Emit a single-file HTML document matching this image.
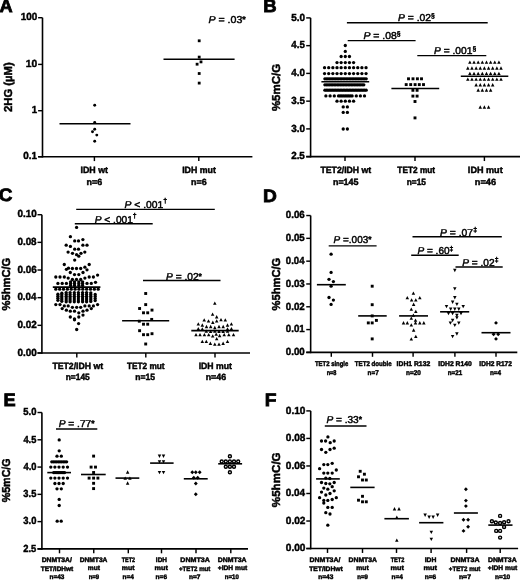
<!DOCTYPE html>
<html><head><meta charset="utf-8"><style>
html,body{margin:0;padding:0;background:#fff;}
svg{display:block;}
text{font-family:"Liberation Sans",sans-serif;fill:#000;text-rendering:geometricPrecision;stroke:#000;stroke-width:0.45px;}
</style></head><body>
<svg width="520" height="580" viewBox="0 0 520 580">
<defs><filter id="bl" x="0" y="0" width="1" height="1"><feGaussianBlur stdDeviation="0.35"/></filter></defs>
<rect width="520" height="580" fill="#fff"/>
<g filter="url(#bl)">
<text style="stroke-width:0.8px" transform="translate(-0.56,12.41) scale(1.0116,1)"><tspan font-weight="bold" font-style="normal" font-size="18">A</tspan></text>
<line x1="42.5" y1="17.7" x2="42.5" y2="157.5" stroke="#000" stroke-width="1.6"/>
<line x1="38.1" y1="156.7" x2="252.4" y2="156.7" stroke="#000" stroke-width="1.6"/>
<line x1="38.1" y1="17.7" x2="42.5" y2="17.7" stroke="#000" stroke-width="1.4400000000000002"/>
<line x1="38.1" y1="64.4" x2="42.5" y2="64.4" stroke="#000" stroke-width="1.4400000000000002"/>
<line x1="38.1" y1="110.7" x2="42.5" y2="110.7" stroke="#000" stroke-width="1.4400000000000002"/>
<line x1="38.1" y1="156.7" x2="42.5" y2="156.7" stroke="#000" stroke-width="1.4400000000000002"/>
<line x1="94.4" y1="156.7" x2="94.4" y2="161.1" stroke="#000" stroke-width="1.4400000000000002"/>
<line x1="198.8" y1="156.7" x2="198.8" y2="161.1" stroke="#000" stroke-width="1.4400000000000002"/>
<text transform="translate(20.65,20.45) scale(0.9647,1)"><tspan font-weight="bold" font-style="normal" font-size="10.3">100</tspan></text>
<text transform="translate(25.83,67.15) scale(0.9950,1)"><tspan font-weight="bold" font-style="normal" font-size="10.3">10</tspan></text>
<text transform="translate(31.67,113.45) scale(0.9396,1)"><tspan font-weight="bold" font-style="normal" font-size="10.3">1</tspan></text>
<text transform="translate(23.3,159.45) scale(0.9599,1)"><tspan font-weight="bold" font-style="normal" font-size="10.3">0.1</tspan></text>
<text transform="translate(12.36,111.99) rotate(-90) scale(0.9812,1)"><tspan font-weight="bold" font-style="normal" font-size="11.5">2HG (µM)</tspan></text>
<text transform="translate(80.53,172.86) scale(0.9811,1)"><tspan font-weight="bold" font-style="normal" font-size="9">IDH wt</tspan></text>
<text transform="translate(86.52,185.16) scale(0.9899,1)"><tspan font-weight="bold" font-style="normal" font-size="9">n=6</tspan></text>
<text transform="translate(182.13,172.86) scale(0.9765,1)"><tspan font-weight="bold" font-style="normal" font-size="9">IDH mut</tspan></text>
<text transform="translate(191.07,185.16) scale(0.9899,1)"><tspan font-weight="bold" font-style="normal" font-size="9">n=6</tspan></text>
<text transform="translate(208.38,22.9) scale(1.0603,1)"><tspan font-weight="normal" font-style="italic" font-size="10">P</tspan><tspan font-weight="normal" font-style="normal" font-size="10"> = .03</tspan><tspan font-weight="bold" font-style="normal" font-size="8.2" dy="-1">*</tspan></text>
<line x1="59.5" y1="123.8" x2="130.5" y2="123.8" stroke="#000" stroke-width="1.6"/>
<line x1="163.5" y1="59.2" x2="234.6" y2="59.2" stroke="#000" stroke-width="1.6"/>
<circle cx="94.7" cy="105.3" r="1.45"/>
<circle cx="94.7" cy="122.4" r="1.45"/>
<circle cx="94.7" cy="129.3" r="1.45"/>
<circle cx="92.5" cy="131.8" r="1.45"/>
<circle cx="96.8" cy="135.1" r="1.45"/>
<circle cx="94.7" cy="141.2" r="1.45"/>
<rect x="197.8" y="39.4" width="2.8" height="2.8"/>
<rect x="197.8" y="55.7" width="2.8" height="2.8"/>
<rect x="199.6" y="60.5" width="2.8" height="2.8"/>
<rect x="195.7" y="62.8" width="2.8" height="2.8"/>
<rect x="197.8" y="72.1" width="2.8" height="2.8"/>
<rect x="197.8" y="81.7" width="2.8" height="2.8"/>
<text style="stroke-width:0.8px" transform="translate(263.3,12.41) scale(1.0291,1)"><tspan font-weight="bold" font-style="normal" font-size="18">B</tspan></text>
<line x1="310.6" y1="17.9" x2="310.6" y2="157.45" stroke="#000" stroke-width="1.6"/>
<line x1="306.2" y1="156.65" x2="520" y2="156.65" stroke="#000" stroke-width="1.6"/>
<line x1="306.2" y1="17.9" x2="310.6" y2="17.9" stroke="#000" stroke-width="1.4400000000000002"/>
<line x1="306.2" y1="45.65" x2="310.6" y2="45.65" stroke="#000" stroke-width="1.4400000000000002"/>
<line x1="306.2" y1="73.4" x2="310.6" y2="73.4" stroke="#000" stroke-width="1.4400000000000002"/>
<line x1="306.2" y1="101.15" x2="310.6" y2="101.15" stroke="#000" stroke-width="1.4400000000000002"/>
<line x1="306.2" y1="128.9" x2="310.6" y2="128.9" stroke="#000" stroke-width="1.4400000000000002"/>
<line x1="306.2" y1="156.65" x2="310.6" y2="156.65" stroke="#000" stroke-width="1.4400000000000002"/>
<line x1="345" y1="156.65" x2="345" y2="161.05" stroke="#000" stroke-width="1.4400000000000002"/>
<line x1="415" y1="156.65" x2="415" y2="161.05" stroke="#000" stroke-width="1.4400000000000002"/>
<line x1="484.4" y1="156.65" x2="484.4" y2="161.05" stroke="#000" stroke-width="1.4400000000000002"/>
<text transform="translate(291.2,20.65) scale(0.9635,1)"><tspan font-weight="bold" font-style="normal" font-size="10.3">5.0</tspan></text>
<text transform="translate(291.35,48.35) scale(0.9421,1)"><tspan font-weight="bold" font-style="normal" font-size="10.3">4.5</tspan></text>
<text transform="translate(291.35,76.15) scale(0.9527,1)"><tspan font-weight="bold" font-style="normal" font-size="10.3">4.0</tspan></text>
<text transform="translate(291.26,103.9) scale(0.9491,1)"><tspan font-weight="bold" font-style="normal" font-size="10.3">3.5</tspan></text>
<text transform="translate(291.25,131.65) scale(0.9599,1)"><tspan font-weight="bold" font-style="normal" font-size="10.3">3.0</tspan></text>
<text transform="translate(291.16,159.4) scale(0.9563,1)"><tspan font-weight="bold" font-style="normal" font-size="10.3">2.5</tspan></text>
<text transform="translate(279.8,111.09) rotate(-90) scale(0.9981,1)"><tspan font-weight="bold" font-style="normal" font-size="11.5">%5mC/G</tspan></text>
<text transform="translate(320.46,173.27) scale(0.9658,1)"><tspan font-weight="bold" font-style="normal" font-size="9">TET2/IDH wt</tspan></text>
<text transform="translate(332.92,184.71) scale(0.9948,1)"><tspan font-weight="bold" font-style="normal" font-size="9">n=145</tspan></text>
<text transform="translate(397.32,173.21) scale(0.9212,1)"><tspan font-weight="bold" font-style="normal" font-size="9">TET2 mut</tspan></text>
<text transform="translate(406.71,184.71) scale(0.9280,1)"><tspan font-weight="bold" font-style="normal" font-size="9">n=15</tspan></text>
<text transform="translate(467.86,173.16) scale(1.0090,1)"><tspan font-weight="bold" font-style="normal" font-size="9">IDH mut</tspan></text>
<text transform="translate(474.85,184.75) scale(1.0229,1)"><tspan font-weight="bold" font-style="normal" font-size="9">n=46</tspan></text>
<line x1="346.9" y1="22.8" x2="487.7" y2="22.8" stroke="#000" stroke-width="1.4"/>
<line x1="347.7" y1="40.6" x2="415.6" y2="40.6" stroke="#000" stroke-width="1.4"/>
<line x1="417.3" y1="55.6" x2="486.3" y2="55.6" stroke="#000" stroke-width="1.4"/>
<text transform="translate(397.99,21.45) scale(1.0329,1)"><tspan font-weight="normal" font-style="italic" font-size="10">P</tspan><tspan font-weight="normal" font-style="normal" font-size="10"> = .02</tspan><tspan font-weight="normal" font-style="normal" font-size="6.6" dy="-3.4">§</tspan></text>
<text transform="translate(363.39,39) scale(1.0443,1)"><tspan font-weight="normal" font-style="italic" font-size="10">P</tspan><tspan font-weight="normal" font-style="normal" font-size="10"> = .08</tspan><tspan font-weight="normal" font-style="normal" font-size="6.6" dy="-3.4">§</tspan></text>
<text transform="translate(434.09,53.9) scale(1.0210,1)"><tspan font-weight="normal" font-style="italic" font-size="10">P</tspan><tspan font-weight="normal" font-style="normal" font-size="10"> = .001</tspan><tspan font-weight="normal" font-style="normal" font-size="6.6" dy="-3.4">§</tspan></text>
<circle cx="345.3" cy="45.5" r="1.65"/>
<circle cx="345.3" cy="51.4" r="1.65"/>
<circle cx="341.15" cy="56.5" r="1.65"/>
<circle cx="345.3" cy="56.5" r="1.65"/>
<circle cx="349.45" cy="56.5" r="1.65"/>
<circle cx="337" cy="62.6" r="1.65"/>
<circle cx="341.15" cy="62.6" r="1.65"/>
<circle cx="345.3" cy="62.6" r="1.65"/>
<circle cx="349.45" cy="62.6" r="1.65"/>
<circle cx="353.6" cy="62.6" r="1.65"/>
<circle cx="324.55" cy="67.7" r="1.65"/>
<circle cx="328.7" cy="67.7" r="1.65"/>
<circle cx="332.85" cy="67.7" r="1.65"/>
<circle cx="337" cy="67.7" r="1.65"/>
<circle cx="341.15" cy="67.7" r="1.65"/>
<circle cx="345.3" cy="67.7" r="1.65"/>
<circle cx="349.45" cy="67.7" r="1.65"/>
<circle cx="353.6" cy="67.7" r="1.65"/>
<circle cx="357.75" cy="67.7" r="1.65"/>
<circle cx="361.9" cy="67.7" r="1.65"/>
<circle cx="366.05" cy="67.7" r="1.65"/>
<circle cx="324.55" cy="73.6" r="1.65"/>
<circle cx="328.7" cy="73.6" r="1.65"/>
<circle cx="332.85" cy="73.6" r="1.65"/>
<circle cx="337" cy="73.6" r="1.65"/>
<circle cx="341.15" cy="73.6" r="1.65"/>
<circle cx="345.3" cy="73.6" r="1.65"/>
<circle cx="349.45" cy="73.6" r="1.65"/>
<circle cx="353.6" cy="73.6" r="1.65"/>
<circle cx="357.75" cy="73.6" r="1.65"/>
<circle cx="361.9" cy="73.6" r="1.65"/>
<circle cx="366.05" cy="73.6" r="1.65"/>
<circle cx="324.9" cy="78.8" r="1.65"/>
<circle cx="326.43" cy="78.8" r="1.65"/>
<circle cx="327.96" cy="78.8" r="1.65"/>
<circle cx="329.49" cy="78.8" r="1.65"/>
<circle cx="331.02" cy="78.8" r="1.65"/>
<circle cx="332.55" cy="78.8" r="1.65"/>
<circle cx="334.08" cy="78.8" r="1.65"/>
<circle cx="335.61" cy="78.8" r="1.65"/>
<circle cx="337.14" cy="78.8" r="1.65"/>
<circle cx="338.67" cy="78.8" r="1.65"/>
<circle cx="340.2" cy="78.8" r="1.65"/>
<circle cx="341.73" cy="78.8" r="1.65"/>
<circle cx="343.26" cy="78.8" r="1.65"/>
<circle cx="344.79" cy="78.8" r="1.65"/>
<circle cx="346.31" cy="78.8" r="1.65"/>
<circle cx="347.84" cy="78.8" r="1.65"/>
<circle cx="349.37" cy="78.8" r="1.65"/>
<circle cx="350.9" cy="78.8" r="1.65"/>
<circle cx="352.43" cy="78.8" r="1.65"/>
<circle cx="353.96" cy="78.8" r="1.65"/>
<circle cx="355.49" cy="78.8" r="1.65"/>
<circle cx="357.02" cy="78.8" r="1.65"/>
<circle cx="358.55" cy="78.8" r="1.65"/>
<circle cx="360.08" cy="78.8" r="1.65"/>
<circle cx="361.61" cy="78.8" r="1.65"/>
<circle cx="363.14" cy="78.8" r="1.65"/>
<circle cx="364.67" cy="78.8" r="1.65"/>
<circle cx="366.2" cy="78.8" r="1.65"/>
<circle cx="324.9" cy="84.8" r="1.65"/>
<circle cx="326.46" cy="84.8" r="1.65"/>
<circle cx="328.01" cy="84.8" r="1.65"/>
<circle cx="329.57" cy="84.8" r="1.65"/>
<circle cx="331.12" cy="84.8" r="1.65"/>
<circle cx="332.68" cy="84.8" r="1.65"/>
<circle cx="334.24" cy="84.8" r="1.65"/>
<circle cx="335.79" cy="84.8" r="1.65"/>
<circle cx="337.35" cy="84.8" r="1.65"/>
<circle cx="338.9" cy="84.8" r="1.65"/>
<circle cx="340.46" cy="84.8" r="1.65"/>
<circle cx="342.02" cy="84.8" r="1.65"/>
<circle cx="343.57" cy="84.8" r="1.65"/>
<circle cx="345.13" cy="84.8" r="1.65"/>
<circle cx="346.68" cy="84.8" r="1.65"/>
<circle cx="348.24" cy="84.8" r="1.65"/>
<circle cx="349.8" cy="84.8" r="1.65"/>
<circle cx="351.35" cy="84.8" r="1.65"/>
<circle cx="352.91" cy="84.8" r="1.65"/>
<circle cx="354.46" cy="84.8" r="1.65"/>
<circle cx="356.02" cy="84.8" r="1.65"/>
<circle cx="357.58" cy="84.8" r="1.65"/>
<circle cx="359.13" cy="84.8" r="1.65"/>
<circle cx="360.69" cy="84.8" r="1.65"/>
<circle cx="362.24" cy="84.8" r="1.65"/>
<circle cx="363.8" cy="84.8" r="1.65"/>
<circle cx="324.9" cy="90.2" r="1.65"/>
<circle cx="326.43" cy="90.2" r="1.65"/>
<circle cx="327.96" cy="90.2" r="1.65"/>
<circle cx="329.49" cy="90.2" r="1.65"/>
<circle cx="331.02" cy="90.2" r="1.65"/>
<circle cx="332.55" cy="90.2" r="1.65"/>
<circle cx="334.08" cy="90.2" r="1.65"/>
<circle cx="335.61" cy="90.2" r="1.65"/>
<circle cx="337.14" cy="90.2" r="1.65"/>
<circle cx="338.67" cy="90.2" r="1.65"/>
<circle cx="340.2" cy="90.2" r="1.65"/>
<circle cx="341.73" cy="90.2" r="1.65"/>
<circle cx="343.26" cy="90.2" r="1.65"/>
<circle cx="344.79" cy="90.2" r="1.65"/>
<circle cx="346.31" cy="90.2" r="1.65"/>
<circle cx="347.84" cy="90.2" r="1.65"/>
<circle cx="349.37" cy="90.2" r="1.65"/>
<circle cx="350.9" cy="90.2" r="1.65"/>
<circle cx="352.43" cy="90.2" r="1.65"/>
<circle cx="353.96" cy="90.2" r="1.65"/>
<circle cx="355.49" cy="90.2" r="1.65"/>
<circle cx="357.02" cy="90.2" r="1.65"/>
<circle cx="358.55" cy="90.2" r="1.65"/>
<circle cx="360.08" cy="90.2" r="1.65"/>
<circle cx="361.61" cy="90.2" r="1.65"/>
<circle cx="363.14" cy="90.2" r="1.65"/>
<circle cx="364.67" cy="90.2" r="1.65"/>
<circle cx="366.2" cy="90.2" r="1.65"/>
<circle cx="337" cy="101.2" r="1.65"/>
<circle cx="341.15" cy="101.2" r="1.65"/>
<circle cx="345.3" cy="101.2" r="1.65"/>
<circle cx="349.45" cy="101.2" r="1.65"/>
<circle cx="353.6" cy="101.2" r="1.65"/>
<circle cx="343.23" cy="106.9" r="1.65"/>
<circle cx="347.38" cy="106.9" r="1.65"/>
<circle cx="343.23" cy="112.4" r="1.65"/>
<circle cx="347.38" cy="112.4" r="1.65"/>
<circle cx="343.23" cy="129" r="1.65"/>
<circle cx="347.38" cy="129" r="1.65"/>
<circle cx="325.9" cy="95.9" r="1.65"/>
<circle cx="330.1" cy="95.9" r="1.65"/>
<circle cx="334.3" cy="95.9" r="1.65"/>
<circle cx="356.3" cy="95.9" r="1.65"/>
<circle cx="360.4" cy="95.9" r="1.65"/>
<circle cx="364.5" cy="95.9" r="1.65"/>
<circle cx="338.5" cy="95.9" r="1.65"/>
<circle cx="340.2" cy="95.9" r="1.65"/>
<circle cx="341.9" cy="95.9" r="1.65"/>
<circle cx="343.6" cy="95.9" r="1.65"/>
<circle cx="345.3" cy="95.9" r="1.65"/>
<circle cx="347" cy="95.9" r="1.65"/>
<circle cx="348.7" cy="95.9" r="1.65"/>
<circle cx="350.4" cy="95.9" r="1.65"/>
<circle cx="352.1" cy="95.9" r="1.65"/>
<line x1="321.4" y1="81.7" x2="369.2" y2="81.7" stroke="#000" stroke-width="1.6"/>
<rect x="407.05" y="77.35" width="2.9" height="2.9"/>
<rect x="411.55" y="77.35" width="2.9" height="2.9"/>
<rect x="415.95" y="77.35" width="2.9" height="2.9"/>
<rect x="420.05" y="77.35" width="2.9" height="2.9"/>
<rect x="404.75" y="83.15" width="2.9" height="2.9"/>
<rect x="409.25" y="83.15" width="2.9" height="2.9"/>
<rect x="413.65" y="83.15" width="2.9" height="2.9"/>
<rect x="417.85" y="83.15" width="2.9" height="2.9"/>
<rect x="422.05" y="83.15" width="2.9" height="2.9"/>
<rect x="411.45" y="88.85" width="2.9" height="2.9"/>
<rect x="415.65" y="88.85" width="2.9" height="2.9"/>
<rect x="411.45" y="94.65" width="2.9" height="2.9"/>
<rect x="415.65" y="94.65" width="2.9" height="2.9"/>
<rect x="413.55" y="100.05" width="2.9" height="2.9"/>
<rect x="413.55" y="116.45" width="2.9" height="2.9"/>
<line x1="391.4" y1="88.5" x2="439.2" y2="88.5" stroke="#000" stroke-width="1.6"/>
<path d="M469.88 60.51L471.62 63.83L468.12 63.83Z"/>
<path d="M474.02 60.51L475.77 63.83L472.27 63.83Z"/>
<path d="M478.17 60.51L479.92 63.83L476.42 63.83Z"/>
<path d="M482.32 60.51L484.07 63.83L480.57 63.83Z"/>
<path d="M486.47 60.51L488.22 63.83L484.72 63.83Z"/>
<path d="M490.62 60.51L492.38 63.83L488.88 63.83Z"/>
<path d="M494.77 60.51L496.52 63.83L493.02 63.83Z"/>
<path d="M498.92 60.51L500.67 63.83L497.17 63.83Z"/>
<path d="M467.8 66.3L469.55 69.63L466.05 69.63Z"/>
<path d="M471.95 66.3L473.7 69.63L470.2 69.63Z"/>
<path d="M476.1 66.3L477.85 69.63L474.35 69.63Z"/>
<path d="M480.25 66.3L482 69.63L478.5 69.63Z"/>
<path d="M484.4 66.3L486.15 69.63L482.65 69.63Z"/>
<path d="M488.55 66.3L490.3 69.63L486.8 69.63Z"/>
<path d="M492.7 66.3L494.45 69.63L490.95 69.63Z"/>
<path d="M496.85 66.3L498.6 69.63L495.1 69.63Z"/>
<path d="M501 66.3L502.75 69.63L499.25 69.63Z"/>
<path d="M469.88 71.7L471.62 75.03L468.12 75.03Z"/>
<path d="M474.02 71.7L475.77 75.03L472.27 75.03Z"/>
<path d="M478.17 71.7L479.92 75.03L476.42 75.03Z"/>
<path d="M482.32 71.7L484.07 75.03L480.57 75.03Z"/>
<path d="M486.47 71.7L488.22 75.03L484.72 75.03Z"/>
<path d="M490.62 71.7L492.38 75.03L488.88 75.03Z"/>
<path d="M494.77 71.7L496.52 75.03L493.02 75.03Z"/>
<path d="M498.92 71.7L500.67 75.03L497.17 75.03Z"/>
<path d="M467.8 77.41L469.55 80.73L466.05 80.73Z"/>
<path d="M471.95 77.41L473.7 80.73L470.2 80.73Z"/>
<path d="M476.1 77.41L477.85 80.73L474.35 80.73Z"/>
<path d="M480.25 77.41L482 80.73L478.5 80.73Z"/>
<path d="M484.4 77.41L486.15 80.73L482.65 80.73Z"/>
<path d="M488.55 77.41L490.3 80.73L486.8 80.73Z"/>
<path d="M492.7 77.41L494.45 80.73L490.95 80.73Z"/>
<path d="M496.85 77.41L498.6 80.73L495.1 80.73Z"/>
<path d="M501 77.41L502.75 80.73L499.25 80.73Z"/>
<path d="M476.1 83.1L477.85 86.43L474.35 86.43Z"/>
<path d="M480.25 83.1L482 86.43L478.5 86.43Z"/>
<path d="M484.4 83.1L486.15 86.43L482.65 86.43Z"/>
<path d="M488.55 83.1L490.3 86.43L486.8 86.43Z"/>
<path d="M492.7 83.1L494.45 86.43L490.95 86.43Z"/>
<path d="M478.17 88.3L479.92 91.63L476.42 91.63Z"/>
<path d="M482.32 88.3L484.07 91.63L480.57 91.63Z"/>
<path d="M486.47 88.3L488.22 91.63L484.72 91.63Z"/>
<path d="M490.62 88.3L492.38 91.63L488.88 91.63Z"/>
<path d="M480.25 105.3L482 108.63L478.5 108.63Z"/>
<path d="M484.4 105.3L486.15 108.63L482.65 108.63Z"/>
<path d="M488.55 105.3L490.3 108.63L486.8 108.63Z"/>
<line x1="460.8" y1="76.3" x2="508.3" y2="76.3" stroke="#000" stroke-width="1.6"/>
<text style="stroke-width:0.8px" transform="translate(-1.16,201.36) scale(1.0517,1)"><tspan font-weight="bold" font-style="normal" font-size="18">C</tspan></text>
<line x1="41.9" y1="214.7" x2="41.9" y2="353.8" stroke="#000" stroke-width="1.6"/>
<line x1="37.5" y1="353" x2="250" y2="353" stroke="#000" stroke-width="1.6"/>
<line x1="37.5" y1="214.7" x2="41.9" y2="214.7" stroke="#000" stroke-width="1.4400000000000002"/>
<line x1="37.5" y1="242.36" x2="41.9" y2="242.36" stroke="#000" stroke-width="1.4400000000000002"/>
<line x1="37.5" y1="270.02" x2="41.9" y2="270.02" stroke="#000" stroke-width="1.4400000000000002"/>
<line x1="37.5" y1="297.68" x2="41.9" y2="297.68" stroke="#000" stroke-width="1.4400000000000002"/>
<line x1="37.5" y1="325.34" x2="41.9" y2="325.34" stroke="#000" stroke-width="1.4400000000000002"/>
<line x1="37.5" y1="353" x2="41.9" y2="353" stroke="#000" stroke-width="1.4400000000000002"/>
<line x1="76.8" y1="353" x2="76.8" y2="357.4" stroke="#000" stroke-width="1.4400000000000002"/>
<line x1="145.8" y1="353" x2="145.8" y2="357.4" stroke="#000" stroke-width="1.4400000000000002"/>
<line x1="215" y1="353" x2="215" y2="357.4" stroke="#000" stroke-width="1.4400000000000002"/>
<text transform="translate(17.4,217.45) scale(0.9631,1)"><tspan font-weight="bold" font-style="normal" font-size="10.3">0.10</tspan></text>
<text transform="translate(17.41,245.11) scale(0.9579,1)"><tspan font-weight="bold" font-style="normal" font-size="10.3">0.08</tspan></text>
<text transform="translate(17.4,272.77) scale(0.9605,1)"><tspan font-weight="bold" font-style="normal" font-size="10.3">0.06</tspan></text>
<text transform="translate(17.41,300.43) scale(0.9453,1)"><tspan font-weight="bold" font-style="normal" font-size="10.3">0.04</tspan></text>
<text transform="translate(17.4,328.09) scale(0.9631,1)"><tspan font-weight="bold" font-style="normal" font-size="10.3">0.02</tspan></text>
<text transform="translate(17.4,355.75) scale(0.9631,1)"><tspan font-weight="bold" font-style="normal" font-size="10.3">0.00</tspan></text>
<text transform="translate(10.45,310.48) rotate(-90) scale(0.9718,1)"><tspan font-weight="bold" font-style="normal" font-size="11.5">%5hmC/G</tspan></text>
<text transform="translate(52.41,368.82) scale(0.9658,1)"><tspan font-weight="bold" font-style="normal" font-size="9">TET2/IDH wt</tspan></text>
<text transform="translate(65.7,380.21) scale(0.9346,1)"><tspan font-weight="bold" font-style="normal" font-size="9">n=145</tspan></text>
<text transform="translate(126.92,368.75) scale(0.9188,1)"><tspan font-weight="bold" font-style="normal" font-size="9">TET2 mut</tspan></text>
<text transform="translate(135.24,380.21) scale(0.9531,1)"><tspan font-weight="bold" font-style="normal" font-size="9">n=15</tspan></text>
<text transform="translate(198.64,368.71) scale(0.9646,1)"><tspan font-weight="bold" font-style="normal" font-size="9">IDH mut</tspan></text>
<text transform="translate(205.68,380.25) scale(0.9826,1)"><tspan font-weight="bold" font-style="normal" font-size="9">n=46</tspan></text>
<line x1="76.2" y1="209.4" x2="214.8" y2="209.4" stroke="#000" stroke-width="1.4"/>
<line x1="74.8" y1="223.8" x2="152.7" y2="223.8" stroke="#000" stroke-width="1.4"/>
<line x1="143" y1="280.5" x2="220.5" y2="280.5" stroke="#000" stroke-width="1.4"/>
<text transform="translate(124.49,207.7) scale(1.0320,1)"><tspan font-weight="normal" font-style="italic" font-size="10">P</tspan><tspan font-weight="normal" font-style="normal" font-size="10"> &lt; .001</tspan><tspan font-weight="normal" font-style="normal" font-size="6.8" dy="-4.4">†</tspan></text>
<text transform="translate(94.69,222.5) scale(1.0172,1)"><tspan font-weight="normal" font-style="italic" font-size="10">P</tspan><tspan font-weight="normal" font-style="normal" font-size="10"> &lt; .001</tspan><tspan font-weight="normal" font-style="normal" font-size="6.8" dy="-4.4">†</tspan></text>
<text transform="translate(165.99,279.5) scale(1.0201,1)"><tspan font-weight="normal" font-style="italic" font-size="10">P</tspan><tspan font-weight="normal" font-style="normal" font-size="10"> = .02</tspan><tspan font-weight="bold" font-style="normal" font-size="8.2" dy="-1">*</tspan></text>
<circle cx="76.6" cy="227.4" r="1.65"/>
<circle cx="70.4" cy="236.7" r="1.65"/>
<circle cx="74.7" cy="240.9" r="1.65"/>
<circle cx="78.5" cy="240.9" r="1.65"/>
<circle cx="82.9" cy="239.6" r="1.65"/>
<circle cx="66.2" cy="245.2" r="1.65"/>
<circle cx="70.4" cy="246.4" r="1.65"/>
<circle cx="82.9" cy="245.2" r="1.65"/>
<circle cx="87" cy="245.2" r="1.65"/>
<circle cx="74.7" cy="249.2" r="1.65"/>
<circle cx="78.5" cy="249.2" r="1.65"/>
<circle cx="68.1" cy="252.1" r="1.65"/>
<circle cx="72.5" cy="253.3" r="1.65"/>
<circle cx="76.6" cy="254.7" r="1.65"/>
<circle cx="78.8" cy="256.2" r="1.65"/>
<circle cx="81" cy="253.3" r="1.65"/>
<circle cx="84.8" cy="252.1" r="1.65"/>
<circle cx="74.7" cy="260.1" r="1.65"/>
<circle cx="64.3" cy="264.5" r="1.65"/>
<circle cx="89.2" cy="264.5" r="1.65"/>
<circle cx="66.4" cy="269.3" r="1.65"/>
<circle cx="68.5" cy="268.2" r="1.65"/>
<circle cx="72.4" cy="268.5" r="1.65"/>
<circle cx="76.5" cy="268.5" r="1.65"/>
<circle cx="80.7" cy="268.5" r="1.65"/>
<circle cx="84.9" cy="267.2" r="1.65"/>
<circle cx="87" cy="269.8" r="1.65"/>
<circle cx="70.3" cy="272.5" r="1.65"/>
<circle cx="83" cy="272.5" r="1.65"/>
<circle cx="74.5" cy="274.6" r="1.65"/>
<circle cx="78.8" cy="274.6" r="1.65"/>
<circle cx="55.8" cy="277" r="1.65"/>
<circle cx="60" cy="277" r="1.65"/>
<circle cx="64.3" cy="277" r="1.65"/>
<circle cx="89.2" cy="277" r="1.65"/>
<circle cx="93.4" cy="277" r="1.65"/>
<circle cx="97.6" cy="275.1" r="1.65"/>
<circle cx="68.2" cy="278.1" r="1.65"/>
<circle cx="84.9" cy="278.1" r="1.65"/>
<circle cx="72.4" cy="279.5" r="1.65"/>
<circle cx="76.5" cy="279.5" r="1.65"/>
<circle cx="80.7" cy="279.5" r="1.65"/>
<circle cx="57.9" cy="283.4" r="1.65"/>
<circle cx="62.2" cy="283.4" r="1.65"/>
<circle cx="66.4" cy="283.4" r="1.65"/>
<circle cx="87" cy="283.4" r="1.65"/>
<circle cx="91.3" cy="283.4" r="1.65"/>
<circle cx="95.5" cy="282.3" r="1.65"/>
<circle cx="55.8" cy="304.6" r="1.65"/>
<circle cx="60" cy="304.6" r="1.65"/>
<circle cx="64.3" cy="305.9" r="1.65"/>
<circle cx="68.2" cy="305.9" r="1.65"/>
<circle cx="72.4" cy="307.3" r="1.65"/>
<circle cx="76.7" cy="307.3" r="1.65"/>
<circle cx="80.7" cy="307.3" r="1.65"/>
<circle cx="84.9" cy="305.9" r="1.65"/>
<circle cx="89.2" cy="305.9" r="1.65"/>
<circle cx="93.4" cy="305.9" r="1.65"/>
<circle cx="97.6" cy="304.6" r="1.65"/>
<circle cx="62.2" cy="308.6" r="1.65"/>
<circle cx="66.4" cy="310.2" r="1.65"/>
<circle cx="70.3" cy="311.2" r="1.65"/>
<circle cx="74.5" cy="311.2" r="1.65"/>
<circle cx="78.8" cy="312.8" r="1.65"/>
<circle cx="83" cy="311.2" r="1.65"/>
<circle cx="87" cy="310.2" r="1.65"/>
<circle cx="91.3" cy="308.6" r="1.65"/>
<circle cx="70.3" cy="317" r="1.65"/>
<circle cx="74.5" cy="318.8" r="1.65"/>
<circle cx="74.5" cy="319.8" r="1.65"/>
<circle cx="78.8" cy="317" r="1.65"/>
<circle cx="83" cy="315.1" r="1.65"/>
<circle cx="78.6" cy="323.6" r="1.65"/>
<circle cx="76.7" cy="329.5" r="1.65"/>
<circle cx="70.6" cy="281.8" r="1.65"/>
<circle cx="70.6" cy="283.6" r="1.65"/>
<circle cx="70.6" cy="285.4" r="1.65"/>
<circle cx="74.5" cy="281.8" r="1.65"/>
<circle cx="74.5" cy="283.6" r="1.65"/>
<circle cx="74.5" cy="285.4" r="1.65"/>
<circle cx="78.8" cy="281.8" r="1.65"/>
<circle cx="78.8" cy="283.6" r="1.65"/>
<circle cx="78.8" cy="285.4" r="1.65"/>
<circle cx="82.6" cy="281.8" r="1.65"/>
<circle cx="82.6" cy="283.6" r="1.65"/>
<circle cx="82.6" cy="285.4" r="1.65"/>
<circle cx="55.8" cy="289.2" r="1.65"/>
<circle cx="59.65" cy="289.2" r="1.65"/>
<circle cx="63.51" cy="289.2" r="1.65"/>
<circle cx="67.36" cy="289.2" r="1.65"/>
<circle cx="71.22" cy="289.2" r="1.65"/>
<circle cx="75.07" cy="289.2" r="1.65"/>
<circle cx="78.93" cy="289.2" r="1.65"/>
<circle cx="82.78" cy="289.2" r="1.65"/>
<circle cx="86.64" cy="289.2" r="1.65"/>
<circle cx="90.5" cy="289.2" r="1.65"/>
<circle cx="94.35" cy="289.2" r="1.65"/>
<circle cx="98.2" cy="289.2" r="1.65"/>
<circle cx="57.9" cy="294.2" r="1.65"/>
<circle cx="57.9" cy="296.23" r="1.65"/>
<circle cx="57.9" cy="298.27" r="1.65"/>
<circle cx="57.9" cy="300.3" r="1.65"/>
<circle cx="61.8" cy="293.2" r="1.65"/>
<circle cx="61.8" cy="294.82" r="1.65"/>
<circle cx="61.8" cy="296.44" r="1.65"/>
<circle cx="61.8" cy="298.06" r="1.65"/>
<circle cx="61.8" cy="299.68" r="1.65"/>
<circle cx="61.8" cy="301.3" r="1.65"/>
<circle cx="66.2" cy="292.6" r="1.65"/>
<circle cx="66.2" cy="294.44" r="1.65"/>
<circle cx="66.2" cy="296.28" r="1.65"/>
<circle cx="66.2" cy="298.12" r="1.65"/>
<circle cx="66.2" cy="299.96" r="1.65"/>
<circle cx="66.2" cy="301.8" r="1.65"/>
<circle cx="70.1" cy="292.6" r="1.65"/>
<circle cx="70.1" cy="294.44" r="1.65"/>
<circle cx="70.1" cy="296.28" r="1.65"/>
<circle cx="70.1" cy="298.12" r="1.65"/>
<circle cx="70.1" cy="299.96" r="1.65"/>
<circle cx="70.1" cy="301.8" r="1.65"/>
<circle cx="74.3" cy="292.6" r="1.65"/>
<circle cx="74.3" cy="294.44" r="1.65"/>
<circle cx="74.3" cy="296.28" r="1.65"/>
<circle cx="74.3" cy="298.12" r="1.65"/>
<circle cx="74.3" cy="299.96" r="1.65"/>
<circle cx="74.3" cy="301.8" r="1.65"/>
<circle cx="78.4" cy="292.6" r="1.65"/>
<circle cx="78.4" cy="294.44" r="1.65"/>
<circle cx="78.4" cy="296.28" r="1.65"/>
<circle cx="78.4" cy="298.12" r="1.65"/>
<circle cx="78.4" cy="299.96" r="1.65"/>
<circle cx="78.4" cy="301.8" r="1.65"/>
<circle cx="82.6" cy="292.6" r="1.65"/>
<circle cx="82.6" cy="294.44" r="1.65"/>
<circle cx="82.6" cy="296.28" r="1.65"/>
<circle cx="82.6" cy="298.12" r="1.65"/>
<circle cx="82.6" cy="299.96" r="1.65"/>
<circle cx="82.6" cy="301.8" r="1.65"/>
<circle cx="86.6" cy="292.6" r="1.65"/>
<circle cx="86.6" cy="294.44" r="1.65"/>
<circle cx="86.6" cy="296.28" r="1.65"/>
<circle cx="86.6" cy="298.12" r="1.65"/>
<circle cx="86.6" cy="299.96" r="1.65"/>
<circle cx="86.6" cy="301.8" r="1.65"/>
<circle cx="90.8" cy="292.8" r="1.65"/>
<circle cx="90.8" cy="294.52" r="1.65"/>
<circle cx="90.8" cy="296.24" r="1.65"/>
<circle cx="90.8" cy="297.96" r="1.65"/>
<circle cx="90.8" cy="299.68" r="1.65"/>
<circle cx="90.8" cy="301.4" r="1.65"/>
<circle cx="95.2" cy="294.4" r="1.65"/>
<circle cx="95.2" cy="296.47" r="1.65"/>
<circle cx="95.2" cy="298.53" r="1.65"/>
<circle cx="95.2" cy="300.6" r="1.65"/>
<line x1="52.8" y1="287.1" x2="100.4" y2="287.1" stroke="#000" stroke-width="1.6"/>
<rect x="144.25" y="292.05" width="2.9" height="2.9"/>
<rect x="144.25" y="303.15" width="2.9" height="2.9"/>
<rect x="138.15" y="307.05" width="2.9" height="2.9"/>
<rect x="150.55" y="308.65" width="2.9" height="2.9"/>
<rect x="142.05" y="311.35" width="2.9" height="2.9"/>
<rect x="146.25" y="311.35" width="2.9" height="2.9"/>
<rect x="137.85" y="319.75" width="2.9" height="2.9"/>
<rect x="150.25" y="317.95" width="2.9" height="2.9"/>
<rect x="142.05" y="322.75" width="2.9" height="2.9"/>
<rect x="146.25" y="322.75" width="2.9" height="2.9"/>
<rect x="138.15" y="329.25" width="2.9" height="2.9"/>
<rect x="142.05" y="333.25" width="2.9" height="2.9"/>
<rect x="146.25" y="333.25" width="2.9" height="2.9"/>
<rect x="150.55" y="332.25" width="2.9" height="2.9"/>
<rect x="144.25" y="342.55" width="2.9" height="2.9"/>
<line x1="122.1" y1="320.8" x2="169.2" y2="320.8" stroke="#000" stroke-width="1.6"/>
<path d="M214.8 301.4L216.55 304.73L213.05 304.73Z"/>
<path d="M212.6 312.4L214.35 315.73L210.85 315.73Z"/>
<path d="M216.7 315.11L218.45 318.43L214.95 318.43Z"/>
<path d="M204.2 318.2L205.95 321.53L202.45 321.53Z"/>
<path d="M208.5 319.2L210.25 322.53L206.75 322.53Z"/>
<path d="M212.8 320.61L214.55 323.93L211.05 323.93Z"/>
<path d="M216.7 319.2L218.45 322.53L214.95 322.53Z"/>
<path d="M221 318L222.75 321.33L219.25 321.33Z"/>
<path d="M225.3 318.2L227.05 321.53L223.55 321.53Z"/>
<path d="M198.3 322.2L200.05 325.53L196.55 325.53Z"/>
<path d="M202.3 323.31L204.05 326.63L200.55 326.63Z"/>
<path d="M206.5 324.81L208.25 328.13L204.75 328.13Z"/>
<path d="M210.7 324.81L212.45 328.13L208.95 328.13Z"/>
<path d="M214.8 325.81L216.55 329.13L213.05 329.13Z"/>
<path d="M219 324.81L220.75 328.13L217.25 328.13Z"/>
<path d="M223.2 324.81L224.95 328.13L221.45 328.13Z"/>
<path d="M227.5 323.31L229.25 326.63L225.75 326.63Z"/>
<path d="M231.4 322.2L233.15 325.53L229.65 325.53Z"/>
<path d="M198.3 327L200.05 330.33L196.55 330.33Z"/>
<path d="M202.3 327.2L204.05 330.53L200.55 330.53Z"/>
<path d="M227.5 327.2L229.25 330.53L225.75 330.53Z"/>
<path d="M231.4 327L233.15 330.33L229.65 330.33Z"/>
<path d="M206.3 329.5L208.05 332.83L204.55 332.83Z"/>
<path d="M210.6 329.7L212.35 333.03L208.85 333.03Z"/>
<path d="M214.8 329.5L216.55 332.83L213.05 332.83Z"/>
<path d="M219 329.7L220.75 333.03L217.25 333.03Z"/>
<path d="M223.1 329.7L224.85 333.03L221.35 333.03Z"/>
<path d="M227.5 329.5L229.25 332.83L225.75 332.83Z"/>
<path d="M196 333L197.75 336.33L194.25 336.33Z"/>
<path d="M200 333L201.75 336.33L198.25 336.33Z"/>
<path d="M204.4 333L206.15 336.33L202.65 336.33Z"/>
<path d="M208.7 333L210.45 336.33L206.95 336.33Z"/>
<path d="M212.7 334.2L214.45 337.53L210.95 337.53Z"/>
<path d="M216.2 332.4L217.95 335.73L214.45 335.73Z"/>
<path d="M219.6 333.81L221.35 337.13L217.85 337.13Z"/>
<path d="M224.2 333L225.95 336.33L222.45 336.33Z"/>
<path d="M228.8 333L230.55 336.33L227.05 336.33Z"/>
<path d="M233.5 333L235.25 336.33L231.75 336.33Z"/>
<path d="M216.7 337L218.45 340.33L214.95 340.33Z"/>
<path d="M202.3 339.7L204.05 343.03L200.55 343.03Z"/>
<path d="M206.3 339.7L208.05 343.03L204.55 343.03Z"/>
<path d="M210.4 341.61L212.15 344.93L208.65 344.93Z"/>
<path d="M214.8 342.4L216.55 345.73L213.05 345.73Z"/>
<path d="M219 342.4L220.75 345.73L217.25 345.73Z"/>
<path d="M223.1 341.61L224.85 344.93L221.35 344.93Z"/>
<path d="M227.5 339.7L229.25 343.03L225.75 343.03Z"/>
<line x1="191.3" y1="330.6" x2="238.7" y2="330.6" stroke="#000" stroke-width="1.6"/>
<text style="stroke-width:0.8px" transform="translate(263.05,201.66) scale(1.0659,1)"><tspan font-weight="bold" font-style="normal" font-size="18">D</tspan></text>
<line x1="310.65" y1="215.54" x2="310.65" y2="353.2" stroke="#000" stroke-width="1.6"/>
<line x1="306.25" y1="352.4" x2="517.3" y2="352.4" stroke="#000" stroke-width="1.6"/>
<line x1="306.25" y1="352.4" x2="310.65" y2="352.4" stroke="#000" stroke-width="1.4400000000000002"/>
<line x1="306.25" y1="329.59" x2="310.65" y2="329.59" stroke="#000" stroke-width="1.4400000000000002"/>
<line x1="306.25" y1="306.78" x2="310.65" y2="306.78" stroke="#000" stroke-width="1.4400000000000002"/>
<line x1="306.25" y1="283.97" x2="310.65" y2="283.97" stroke="#000" stroke-width="1.4400000000000002"/>
<line x1="306.25" y1="261.16" x2="310.65" y2="261.16" stroke="#000" stroke-width="1.4400000000000002"/>
<line x1="306.25" y1="238.35" x2="310.65" y2="238.35" stroke="#000" stroke-width="1.4400000000000002"/>
<line x1="306.25" y1="215.54" x2="310.65" y2="215.54" stroke="#000" stroke-width="1.4400000000000002"/>
<line x1="331.3" y1="352.4" x2="331.3" y2="356.8" stroke="#000" stroke-width="1.4400000000000002"/>
<line x1="372.5" y1="352.4" x2="372.5" y2="356.8" stroke="#000" stroke-width="1.4400000000000002"/>
<line x1="413.1" y1="352.4" x2="413.1" y2="356.8" stroke="#000" stroke-width="1.4400000000000002"/>
<line x1="454.9" y1="352.4" x2="454.9" y2="356.8" stroke="#000" stroke-width="1.4400000000000002"/>
<line x1="496" y1="352.4" x2="496" y2="356.8" stroke="#000" stroke-width="1.4400000000000002"/>
<text transform="translate(285.81,355.15) scale(0.9474,1)"><tspan font-weight="bold" font-style="normal" font-size="10.3">0.00</tspan></text>
<text transform="translate(285.81,332.34) scale(0.9399,1)"><tspan font-weight="bold" font-style="normal" font-size="10.3">0.01</tspan></text>
<text transform="translate(285.81,309.53) scale(0.9474,1)"><tspan font-weight="bold" font-style="normal" font-size="10.3">0.02</tspan></text>
<text transform="translate(285.81,286.72) scale(0.9449,1)"><tspan font-weight="bold" font-style="normal" font-size="10.3">0.03</tspan></text>
<text transform="translate(285.82,263.91) scale(0.9300,1)"><tspan font-weight="bold" font-style="normal" font-size="10.3">0.04</tspan></text>
<text transform="translate(285.81,241.1) scale(0.9399,1)"><tspan font-weight="bold" font-style="normal" font-size="10.3">0.05</tspan></text>
<text transform="translate(285.81,218.29) scale(0.9449,1)"><tspan font-weight="bold" font-style="normal" font-size="10.3">0.06</tspan></text>
<text transform="translate(279.85,310.48) rotate(-90) scale(0.9718,1)"><tspan font-weight="bold" font-style="normal" font-size="11.5">%5hmC/G</tspan></text>
<text transform="translate(314.99,366.23) scale(0.8620,1)"><tspan font-weight="bold" font-style="normal" font-size="6.9">TET2 single</tspan></text>
<text transform="translate(326.64,375.33) scale(0.8056,1)"><tspan font-weight="bold" font-style="normal" font-size="6.9">n=8</tspan></text>
<text transform="translate(354.79,366.22) scale(0.8932,1)"><tspan font-weight="bold" font-style="normal" font-size="6.9">TET2 double</tspan></text>
<text transform="translate(367.59,375.33) scale(0.9191,1)"><tspan font-weight="bold" font-style="normal" font-size="6.9">n=7</tspan></text>
<text transform="translate(396.61,366.13) scale(0.9851,1)"><tspan font-weight="bold" font-style="normal" font-size="6.9">IDH1 R132</tspan></text>
<text transform="translate(405.98,375.33) scale(0.9354,1)"><tspan font-weight="bold" font-style="normal" font-size="6.9">n=20</tspan></text>
<text transform="translate(438.26,366.13) scale(0.9822,1)"><tspan font-weight="bold" font-style="normal" font-size="6.9">IDH2 R140</tspan></text>
<text transform="translate(447.8,375.37) scale(0.9029,1)"><tspan font-weight="bold" font-style="normal" font-size="6.9">n=21</tspan></text>
<text transform="translate(479.32,366.17) scale(0.9552,1)"><tspan font-weight="bold" font-style="normal" font-size="6.9">IDH2 R172</tspan></text>
<text transform="translate(489.94,375.33) scale(0.9231,1)"><tspan font-weight="bold" font-style="normal" font-size="6.9">n=4</tspan></text>
<text transform="translate(333.6,243.25) scale(0.9973,1)"><tspan font-weight="normal" font-style="italic" font-size="10">P</tspan><tspan font-weight="normal" font-style="normal" font-size="10"> =.003</tspan><tspan font-weight="bold" font-style="normal" font-size="8.2" dy="-1">*</tspan></text>
<text transform="translate(440.09,235.75) scale(1.0329,1)"><tspan font-weight="normal" font-style="italic" font-size="10">P</tspan><tspan font-weight="normal" font-style="normal" font-size="10"> = .07</tspan><tspan font-weight="normal" font-style="normal" font-size="6.8" dy="-3.3">‡</tspan></text>
<text transform="translate(417.4,254.2) scale(1.0072,1)"><tspan font-weight="normal" font-style="italic" font-size="10">P</tspan><tspan font-weight="normal" font-style="normal" font-size="10"> = .60</tspan><tspan font-weight="normal" font-style="normal" font-size="6.8" dy="-3.3">‡</tspan></text>
<text transform="translate(462.2,265.55) scale(1.0157,1)"><tspan font-weight="normal" font-style="italic" font-size="10">P</tspan><tspan font-weight="normal" font-style="normal" font-size="10"> = .02</tspan><tspan font-weight="normal" font-style="normal" font-size="6.8" dy="-3.3">‡</tspan></text>
<line x1="328.7" y1="245.9" x2="376.6" y2="245.9" stroke="#000" stroke-width="1.4"/>
<line x1="412.5" y1="236.7" x2="501.8" y2="236.7" stroke="#000" stroke-width="1.4"/>
<line x1="411.2" y1="255.2" x2="458.7" y2="255.2" stroke="#000" stroke-width="1.4"/>
<line x1="455.5" y1="267" x2="502.7" y2="267" stroke="#000" stroke-width="1.4"/>
<circle cx="331.1" cy="254.2" r="1.65"/>
<circle cx="331.1" cy="272.4" r="1.65"/>
<circle cx="329" cy="279.3" r="1.65"/>
<circle cx="333.4" cy="281.6" r="1.65"/>
<circle cx="331.1" cy="286.2" r="1.65"/>
<circle cx="329" cy="297.5" r="1.65"/>
<circle cx="333.4" cy="300.1" r="1.65"/>
<circle cx="331.1" cy="304.4" r="1.65"/>
<line x1="316.9" y1="284.7" x2="345.8" y2="284.7" stroke="#000" stroke-width="1.6"/>
<rect x="370.75" y="284.75" width="2.9" height="2.9"/>
<rect x="370.75" y="303.25" width="2.9" height="2.9"/>
<rect x="370.75" y="314.45" width="2.9" height="2.9"/>
<rect x="374.95" y="318.95" width="2.9" height="2.9"/>
<rect x="366.85" y="321.45" width="2.9" height="2.9"/>
<rect x="370.75" y="321.45" width="2.9" height="2.9"/>
<rect x="370.75" y="337.45" width="2.9" height="2.9"/>
<line x1="358.2" y1="315.9" x2="386.7" y2="315.9" stroke="#000" stroke-width="1.6"/>
<path d="M413.4 291.5L415.15 294.83L411.65 294.83Z"/>
<path d="M407.3 296L409.05 299.33L405.55 299.33Z"/>
<path d="M419.8 296L421.55 299.33L418.05 299.33Z"/>
<path d="M411.6 298.2L413.35 301.53L409.85 301.53Z"/>
<path d="M415.8 298.2L417.55 301.53L414.05 301.53Z"/>
<path d="M413.6 302.61L415.35 305.93L411.85 305.93Z"/>
<path d="M411.3 307.4L413.05 310.73L409.55 310.73Z"/>
<path d="M415.8 309.7L417.55 313.03L414.05 313.03Z"/>
<path d="M413.4 313.4L415.15 316.73L411.65 316.73Z"/>
<path d="M411.3 316.5L413.05 319.83L409.55 319.83Z"/>
<path d="M415.5 318.4L417.25 321.73L413.75 321.73Z"/>
<path d="M403.5 321.11L405.25 324.43L401.75 324.43Z"/>
<path d="M407.3 321.11L409.05 324.43L405.55 324.43Z"/>
<path d="M415.5 321.11L417.25 324.43L413.75 324.43Z"/>
<path d="M419.8 321.11L421.55 324.43L418.05 324.43Z"/>
<path d="M423.8 321.11L425.55 324.43L422.05 324.43Z"/>
<path d="M411.3 323.2L413.05 326.53L409.55 326.53Z"/>
<path d="M413.6 328.31L415.35 331.63L411.85 331.63Z"/>
<path d="M415.8 334.7L417.55 338.03L414.05 338.03Z"/>
<path d="M411.3 337.2L413.05 340.53L409.55 340.53Z"/>
<line x1="399.1" y1="315.9" x2="428" y2="315.9" stroke="#000" stroke-width="1.6"/>
<path d="M454.8 272.19L456.55 268.87L453.05 268.87Z"/>
<path d="M454.8 290.5L456.55 287.17L453.05 287.17Z"/>
<path d="M454.8 299.39L456.55 296.07L453.05 296.07Z"/>
<path d="M452.6 303.89L454.35 300.57L450.85 300.57Z"/>
<path d="M456.9 306.1L458.65 302.77L455.15 302.77Z"/>
<path d="M446.5 308.3L448.25 304.97L444.75 304.97Z"/>
<path d="M463.2 308.3L464.95 304.97L461.45 304.97Z"/>
<path d="M450.7 310.89L452.45 307.57L448.95 307.57Z"/>
<path d="M454.8 310.89L456.55 307.57L453.05 307.57Z"/>
<path d="M458.8 310.89L460.55 307.57L457.05 307.57Z"/>
<path d="M448.5 315.3L450.25 311.97L446.75 311.97Z"/>
<path d="M452.6 315.3L454.35 311.97L450.85 311.97Z"/>
<path d="M461 315.3L462.75 311.97L459.25 311.97Z"/>
<path d="M456.9 317.19L458.65 313.87L455.15 313.87Z"/>
<path d="M456.9 319.6L458.65 316.27L455.15 316.27Z"/>
<path d="M452.6 322.19L454.35 318.87L450.85 318.87Z"/>
<path d="M450.4 324.8L452.15 321.47L448.65 321.47Z"/>
<path d="M458.8 324.8L460.55 321.47L457.05 321.47Z"/>
<path d="M454.8 327L456.55 323.67L453.05 323.67Z"/>
<path d="M456.9 335.69L458.65 332.37L455.15 332.37Z"/>
<path d="M452.6 338.3L454.35 334.97L450.85 334.97Z"/>
<line x1="440.1" y1="311.8" x2="469.2" y2="311.8" stroke="#000" stroke-width="1.6"/>
<path d="M496 320.95L497.95 322.9L496 324.85L494.05 322.9Z"/>
<path d="M493.6 332.25L495.55 334.2L493.6 336.15L491.65 334.2Z"/>
<path d="M498.2 332.25L500.15 334.2L498.2 336.15L496.25 334.2Z"/>
<path d="M496 336.95L497.95 338.9L496 340.85L494.05 338.9Z"/>
<line x1="481.5" y1="332.7" x2="510.5" y2="332.7" stroke="#000" stroke-width="1.6"/>
<text style="stroke-width:0.8px" transform="translate(3.42,405.61) scale(1.0128,1)"><tspan font-weight="bold" font-style="normal" font-size="18">E</tspan></text>
<line x1="41.9" y1="412.52" x2="41.9" y2="549.7" stroke="#000" stroke-width="1.6"/>
<line x1="37.5" y1="548.9" x2="248" y2="548.9" stroke="#000" stroke-width="1.6"/>
<line x1="37.5" y1="412.52" x2="41.9" y2="412.52" stroke="#000" stroke-width="1.4400000000000002"/>
<line x1="37.5" y1="439.8" x2="41.9" y2="439.8" stroke="#000" stroke-width="1.4400000000000002"/>
<line x1="37.5" y1="467.07" x2="41.9" y2="467.07" stroke="#000" stroke-width="1.4400000000000002"/>
<line x1="37.5" y1="494.35" x2="41.9" y2="494.35" stroke="#000" stroke-width="1.4400000000000002"/>
<line x1="37.5" y1="521.62" x2="41.9" y2="521.62" stroke="#000" stroke-width="1.4400000000000002"/>
<line x1="37.5" y1="548.9" x2="41.9" y2="548.9" stroke="#000" stroke-width="1.4400000000000002"/>
<line x1="59.5" y1="548.9" x2="59.5" y2="553.3" stroke="#000" stroke-width="1.4400000000000002"/>
<line x1="93.75" y1="548.9" x2="93.75" y2="553.3" stroke="#000" stroke-width="1.4400000000000002"/>
<line x1="128.3" y1="548.9" x2="128.3" y2="553.3" stroke="#000" stroke-width="1.4400000000000002"/>
<line x1="161.5" y1="548.9" x2="161.5" y2="553.3" stroke="#000" stroke-width="1.4400000000000002"/>
<line x1="196" y1="548.9" x2="196" y2="553.3" stroke="#000" stroke-width="1.4400000000000002"/>
<line x1="230.8" y1="548.9" x2="230.8" y2="553.3" stroke="#000" stroke-width="1.4400000000000002"/>
<text transform="translate(23.32,415.28) scale(0.9194,1)"><tspan font-weight="bold" font-style="normal" font-size="10.3">5.0</tspan></text>
<text transform="translate(23.46,442.5) scale(0.8990,1)"><tspan font-weight="bold" font-style="normal" font-size="10.3">4.5</tspan></text>
<text transform="translate(23.46,469.83) scale(0.9091,1)"><tspan font-weight="bold" font-style="normal" font-size="10.3">4.0</tspan></text>
<text transform="translate(23.37,497.1) scale(0.9057,1)"><tspan font-weight="bold" font-style="normal" font-size="10.3">3.5</tspan></text>
<text transform="translate(23.36,524.38) scale(0.9159,1)"><tspan font-weight="bold" font-style="normal" font-size="10.3">3.0</tspan></text>
<text transform="translate(23.27,551.65) scale(0.9125,1)"><tspan font-weight="bold" font-style="normal" font-size="10.3">2.5</tspan></text>
<text transform="translate(10.45,502.37) rotate(-90) scale(0.9311,1)"><tspan font-weight="bold" font-style="normal" font-size="11.5">%5mC/G</tspan></text>
<text transform="translate(41.71,561.93) scale(1.0297,1)"><tspan font-weight="bold" font-style="normal" font-size="6.6">DNMT3A/</tspan></text>
<text transform="translate(40.73,570.58) scale(0.9868,1)"><tspan font-weight="bold" font-style="normal" font-size="6.6">TET/IDHwt</tspan></text>
<text transform="translate(49.53,578.88) scale(0.9689,1)"><tspan font-weight="bold" font-style="normal" font-size="6.6">n=43</tspan></text>
<text transform="translate(79.72,561.88) scale(1.0076,1)"><tspan font-weight="bold" font-style="normal" font-size="6.6">DNMT3A</tspan></text>
<text transform="translate(87.87,570.38) scale(1.0015,1)"><tspan font-weight="bold" font-style="normal" font-size="6.6">mut</tspan></text>
<text transform="translate(88.66,578.88) scale(0.9091,1)"><tspan font-weight="bold" font-style="normal" font-size="6.6">n=9</tspan></text>
<text transform="translate(121.8,561.91) scale(0.8161,1)"><tspan font-weight="bold" font-style="normal" font-size="6.6">TET2</tspan></text>
<text transform="translate(121.75,570.38) scale(1.0533,1)"><tspan font-weight="bold" font-style="normal" font-size="6.6">mut</tspan></text>
<text transform="translate(122.48,578.88) scale(0.9740,1)"><tspan font-weight="bold" font-style="normal" font-size="6.6">n=4</tspan></text>
<text transform="translate(155.83,561.88) scale(0.9815,1)"><tspan font-weight="bold" font-style="normal" font-size="6.6">IDH</tspan></text>
<text transform="translate(154.58,570.38) scale(1.0964,1)"><tspan font-weight="bold" font-style="normal" font-size="6.6">mut</tspan></text>
<text transform="translate(155.57,578.88) scale(0.9917,1)"><tspan font-weight="bold" font-style="normal" font-size="6.6">n=6</tspan></text>
<text transform="translate(180.34,561.88) scale(1.0708,1)"><tspan font-weight="bold" font-style="normal" font-size="6.6">DNMT3A</tspan></text>
<text transform="translate(179.06,570.53) scale(0.9237,1)"><tspan font-weight="bold" font-style="normal" font-size="6.6">+TET2 mut</tspan></text>
<text transform="translate(188.97,578.88) scale(0.9978,1)"><tspan font-weight="bold" font-style="normal" font-size="6.6">n=7</tspan></text>
<text transform="translate(217.8,561.88) scale(1.0448,1)"><tspan font-weight="bold" font-style="normal" font-size="6.6">DNMT3A</tspan></text>
<text transform="translate(217.78,570.49) scale(1.0101,1)"><tspan font-weight="bold" font-style="normal" font-size="6.6">+IDH mut</tspan></text>
<text transform="translate(224.86,578.88) scale(0.9160,1)"><tspan font-weight="bold" font-style="normal" font-size="6.6">n=10</tspan></text>
<text transform="translate(58.69,426.5) scale(1.0172,1)"><tspan font-weight="normal" font-style="italic" font-size="10">P</tspan><tspan font-weight="normal" font-style="normal" font-size="10"> = .77</tspan><tspan font-weight="bold" font-style="normal" font-size="8.2" dy="-1">*</tspan></text>
<line x1="56" y1="429" x2="97.3" y2="429" stroke="#000" stroke-width="1.4"/>
<circle cx="59.2" cy="439.9" r="1.65"/>
<circle cx="59.2" cy="450.8" r="1.65"/>
<circle cx="57" cy="456.2" r="1.65"/>
<circle cx="61.3" cy="456.2" r="1.65"/>
<circle cx="50.8" cy="467.1" r="1.65"/>
<circle cx="54.9" cy="467.1" r="1.65"/>
<circle cx="59" cy="467.1" r="1.65"/>
<circle cx="63.2" cy="467.1" r="1.65"/>
<circle cx="67.5" cy="467.1" r="1.65"/>
<circle cx="50.8" cy="478.1" r="1.65"/>
<circle cx="54.9" cy="478.1" r="1.65"/>
<circle cx="59" cy="478.1" r="1.65"/>
<circle cx="63.2" cy="478.1" r="1.65"/>
<circle cx="67.5" cy="478.1" r="1.65"/>
<circle cx="54.9" cy="483.5" r="1.65"/>
<circle cx="59" cy="483.5" r="1.65"/>
<circle cx="63.2" cy="483.5" r="1.65"/>
<circle cx="57" cy="488.8" r="1.65"/>
<circle cx="61.3" cy="488.8" r="1.65"/>
<circle cx="59.2" cy="499.4" r="1.65"/>
<circle cx="59.2" cy="505.5" r="1.65"/>
<circle cx="57.2" cy="521.2" r="1.65"/>
<circle cx="61.2" cy="521.2" r="1.65"/>
<circle cx="51.8" cy="461.8" r="1.65"/>
<circle cx="53.44" cy="461.8" r="1.65"/>
<circle cx="55.09" cy="461.8" r="1.65"/>
<circle cx="56.73" cy="461.8" r="1.65"/>
<circle cx="58.38" cy="461.8" r="1.65"/>
<circle cx="60.02" cy="461.8" r="1.65"/>
<circle cx="61.66" cy="461.8" r="1.65"/>
<circle cx="63.31" cy="461.8" r="1.65"/>
<circle cx="64.95" cy="461.8" r="1.65"/>
<circle cx="66.6" cy="461.8" r="1.65"/>
<circle cx="53.7" cy="472.6" r="1.65"/>
<circle cx="54.91" cy="472.6" r="1.65"/>
<circle cx="56.12" cy="472.6" r="1.65"/>
<circle cx="57.33" cy="472.6" r="1.65"/>
<circle cx="58.54" cy="472.6" r="1.65"/>
<circle cx="59.76" cy="472.6" r="1.65"/>
<circle cx="60.97" cy="472.6" r="1.65"/>
<circle cx="62.18" cy="472.6" r="1.65"/>
<circle cx="63.39" cy="472.6" r="1.65"/>
<circle cx="64.6" cy="472.6" r="1.65"/>
<line x1="47.3" y1="472.6" x2="71" y2="472.6" stroke="#000" stroke-width="1.6"/>
<rect x="92.15" y="454.65" width="2.9" height="2.9"/>
<rect x="89.65" y="465.65" width="2.9" height="2.9"/>
<rect x="94.05" y="465.65" width="2.9" height="2.9"/>
<rect x="92.15" y="471.05" width="2.9" height="2.9"/>
<rect x="87.65" y="476.65" width="2.9" height="2.9"/>
<rect x="92.15" y="476.65" width="2.9" height="2.9"/>
<rect x="96.45" y="476.65" width="2.9" height="2.9"/>
<rect x="92.15" y="481.85" width="2.9" height="2.9"/>
<rect x="92.15" y="487.15" width="2.9" height="2.9"/>
<line x1="81" y1="474.5" x2="105.7" y2="474.5" stroke="#000" stroke-width="1.6"/>
<path d="M127.6 470.31L129.35 473.63L125.85 473.63Z"/>
<path d="M125.2 476.4L126.95 479.73L123.45 479.73Z"/>
<path d="M129.9 476.4L131.65 479.73L128.15 479.73Z"/>
<path d="M127.6 481.31L129.35 484.63L125.85 484.63Z"/>
<line x1="115.5" y1="478.1" x2="139.3" y2="478.1" stroke="#000" stroke-width="1.6"/>
<path d="M159.5 457.89L161.25 454.57L157.75 454.57Z"/>
<path d="M163.5 457.89L165.25 454.57L161.75 454.57Z"/>
<path d="M159.5 463.5L161.25 460.17L157.75 460.17Z"/>
<path d="M163.5 463.5L165.25 460.17L161.75 460.17Z"/>
<path d="M159.5 474.3L161.25 470.97L157.75 470.97Z"/>
<path d="M163.5 474.3L165.25 470.97L161.75 470.97Z"/>
<line x1="150.1" y1="463.1" x2="173.6" y2="463.1" stroke="#000" stroke-width="1.6"/>
<path d="M192.3 470.35L194.25 472.3L192.3 474.25L190.35 472.3Z"/>
<path d="M195.8 470.35L197.75 472.3L195.8 474.25L193.85 472.3Z"/>
<path d="M199.7 470.35L201.65 472.3L199.7 474.25L197.75 472.3Z"/>
<path d="M193.8 475.75L195.75 477.7L193.8 479.65L191.85 477.7Z"/>
<path d="M197.7 475.75L199.65 477.7L197.7 479.65L195.75 477.7Z"/>
<path d="M195.8 481.55L197.75 483.5L195.8 485.45L193.85 483.5Z"/>
<path d="M195.8 492.25L197.75 494.2L195.8 496.15L193.85 494.2Z"/>
<line x1="183.8" y1="478.8" x2="207.7" y2="478.8" stroke="#000" stroke-width="1.6"/>
<circle cx="229.9" cy="456.2" r="1.5" fill="#fff" stroke="#000" stroke-width="1.4"/>
<circle cx="221.7" cy="461.5" r="1.5" fill="#fff" stroke="#000" stroke-width="1.4"/>
<circle cx="225.8" cy="461.5" r="1.5" fill="#fff" stroke="#000" stroke-width="1.4"/>
<circle cx="229.9" cy="461.5" r="1.5" fill="#fff" stroke="#000" stroke-width="1.4"/>
<circle cx="234" cy="461.5" r="1.5" fill="#fff" stroke="#000" stroke-width="1.4"/>
<circle cx="238.2" cy="461.5" r="1.5" fill="#fff" stroke="#000" stroke-width="1.4"/>
<circle cx="225.8" cy="466.7" r="1.5" fill="#fff" stroke="#000" stroke-width="1.4"/>
<circle cx="229.9" cy="466.7" r="1.5" fill="#fff" stroke="#000" stroke-width="1.4"/>
<circle cx="234" cy="466.7" r="1.5" fill="#fff" stroke="#000" stroke-width="1.4"/>
<circle cx="229.9" cy="472.2" r="1.5" fill="#fff" stroke="#000" stroke-width="1.4"/>
<line x1="218.2" y1="463.8" x2="242.1" y2="463.8" stroke="#000" stroke-width="1.6"/>
<text style="stroke-width:0.8px" transform="translate(264.85,405.61) scale(1.0675,1)"><tspan font-weight="bold" font-style="normal" font-size="18">F</tspan></text>
<line x1="310.7" y1="410.9" x2="310.7" y2="549.35" stroke="#000" stroke-width="1.6"/>
<line x1="306.3" y1="548.55" x2="518.1" y2="548.55" stroke="#000" stroke-width="1.6"/>
<line x1="306.3" y1="410.9" x2="310.7" y2="410.9" stroke="#000" stroke-width="1.4400000000000002"/>
<line x1="306.3" y1="438.43" x2="310.7" y2="438.43" stroke="#000" stroke-width="1.4400000000000002"/>
<line x1="306.3" y1="465.96" x2="310.7" y2="465.96" stroke="#000" stroke-width="1.4400000000000002"/>
<line x1="306.3" y1="493.49" x2="310.7" y2="493.49" stroke="#000" stroke-width="1.4400000000000002"/>
<line x1="306.3" y1="521.02" x2="310.7" y2="521.02" stroke="#000" stroke-width="1.4400000000000002"/>
<line x1="306.3" y1="548.55" x2="310.7" y2="548.55" stroke="#000" stroke-width="1.4400000000000002"/>
<line x1="327.5" y1="548.55" x2="327.5" y2="552.95" stroke="#000" stroke-width="1.4400000000000002"/>
<line x1="362.5" y1="548.55" x2="362.5" y2="552.95" stroke="#000" stroke-width="1.4400000000000002"/>
<line x1="396.5" y1="548.55" x2="396.5" y2="552.95" stroke="#000" stroke-width="1.4400000000000002"/>
<line x1="431.1" y1="548.55" x2="431.1" y2="552.95" stroke="#000" stroke-width="1.4400000000000002"/>
<line x1="466.6" y1="548.55" x2="466.6" y2="552.95" stroke="#000" stroke-width="1.4400000000000002"/>
<line x1="500.2" y1="548.55" x2="500.2" y2="552.95" stroke="#000" stroke-width="1.4400000000000002"/>
<text transform="translate(285.79,413.65) scale(0.9839,1)"><tspan font-weight="bold" font-style="normal" font-size="10.3">0.10</tspan></text>
<text transform="translate(285.8,441.18) scale(0.9786,1)"><tspan font-weight="bold" font-style="normal" font-size="10.3">0.08</tspan></text>
<text transform="translate(285.8,468.71) scale(0.9813,1)"><tspan font-weight="bold" font-style="normal" font-size="10.3">0.06</tspan></text>
<text transform="translate(285.8,496.24) scale(0.9658,1)"><tspan font-weight="bold" font-style="normal" font-size="10.3">0.04</tspan></text>
<text transform="translate(285.79,523.77) scale(0.9839,1)"><tspan font-weight="bold" font-style="normal" font-size="10.3">0.02</tspan></text>
<text transform="translate(285.79,551.3) scale(0.9839,1)"><tspan font-weight="bold" font-style="normal" font-size="10.3">0.00</tspan></text>
<text transform="translate(279.5,507.19) rotate(-90) scale(1.0093,1)"><tspan font-weight="bold" font-style="normal" font-size="11.5">%5hmC/G</tspan></text>
<text transform="translate(309.6,561.93) scale(1.0506,1)"><tspan font-weight="bold" font-style="normal" font-size="6.6">DNMT3A/</tspan></text>
<text transform="translate(309.18,570.58) scale(1.0203,1)"><tspan font-weight="bold" font-style="normal" font-size="6.6">TET/IDHwt</tspan></text>
<text transform="translate(318.28,578.88) scale(0.9895,1)"><tspan font-weight="bold" font-style="normal" font-size="6.6">n=43</tspan></text>
<text transform="translate(348.56,561.88) scale(1.0336,1)"><tspan font-weight="bold" font-style="normal" font-size="6.6">DNMT3A</tspan></text>
<text transform="translate(356.36,570.38) scale(1.0187,1)"><tspan font-weight="bold" font-style="normal" font-size="6.6">mut</tspan></text>
<text transform="translate(357.25,578.88) scale(0.9275,1)"><tspan font-weight="bold" font-style="normal" font-size="6.6">n=9</tspan></text>
<text transform="translate(390.64,561.91) scale(0.8477,1)"><tspan font-weight="bold" font-style="normal" font-size="6.6">TET2</tspan></text>
<text transform="translate(390.53,570.38) scale(1.1051,1)"><tspan font-weight="bold" font-style="normal" font-size="6.6">mut</tspan></text>
<text transform="translate(391.58,578.88) scale(0.9740,1)"><tspan font-weight="bold" font-style="normal" font-size="6.6">n=4</tspan></text>
<text transform="translate(424.66,561.88) scale(1.0292,1)"><tspan font-weight="bold" font-style="normal" font-size="6.6">IDH</tspan></text>
<text transform="translate(423.52,570.38) scale(1.1223,1)"><tspan font-weight="bold" font-style="normal" font-size="6.6">mut</tspan></text>
<text transform="translate(424.67,578.88) scale(0.9917,1)"><tspan font-weight="bold" font-style="normal" font-size="6.6">n=6</tspan></text>
<text transform="translate(450.4,561.88) scale(1.0597,1)"><tspan font-weight="bold" font-style="normal" font-size="6.6">DNMT3A</tspan></text>
<text transform="translate(448.8,570.53) scale(0.9326,1)"><tspan font-weight="bold" font-style="normal" font-size="6.6">+TET2 mut</tspan></text>
<text transform="translate(458.9,578.88) scale(1.0440,1)"><tspan font-weight="bold" font-style="normal" font-size="6.6">n=7</tspan></text>
<text transform="translate(487.9,561.88) scale(1.0448,1)"><tspan font-weight="bold" font-style="normal" font-size="6.6">DNMT3A</tspan></text>
<text transform="translate(487.78,570.49) scale(1.0101,1)"><tspan font-weight="bold" font-style="normal" font-size="6.6">+IDH mut</tspan></text>
<text transform="translate(495.07,578.88) scale(0.9917,1)"><tspan font-weight="bold" font-style="normal" font-size="6.6">n=10</tspan></text>
<text transform="translate(326.4,422.5) scale(1.0115,1)"><tspan font-weight="normal" font-style="italic" font-size="10">P</tspan><tspan font-weight="normal" font-style="normal" font-size="10"> = .33</tspan><tspan font-weight="bold" font-style="normal" font-size="8.2" dy="-1">*</tspan></text>
<line x1="324.8" y1="426" x2="366.5" y2="426" stroke="#000" stroke-width="1.4"/>
<circle cx="327.9" cy="436.9" r="1.65"/>
<circle cx="321.5" cy="441" r="1.65"/>
<circle cx="325.6" cy="441" r="1.65"/>
<circle cx="330.2" cy="442.7" r="1.65"/>
<circle cx="334.2" cy="441" r="1.65"/>
<circle cx="321.5" cy="449.5" r="1.65"/>
<circle cx="325.8" cy="452.3" r="1.65"/>
<circle cx="330" cy="449.5" r="1.65"/>
<circle cx="334.2" cy="448.2" r="1.65"/>
<circle cx="323.8" cy="464.6" r="1.65"/>
<circle cx="327.8" cy="464.6" r="1.65"/>
<circle cx="332.2" cy="463.3" r="1.65"/>
<circle cx="319.6" cy="468.7" r="1.65"/>
<circle cx="336.3" cy="470" r="1.65"/>
<circle cx="323.8" cy="473.1" r="1.65"/>
<circle cx="327.8" cy="473.1" r="1.65"/>
<circle cx="332.2" cy="473.1" r="1.65"/>
<circle cx="325.8" cy="478.1" r="1.65"/>
<circle cx="329.8" cy="478.5" r="1.65"/>
<circle cx="321.5" cy="482.5" r="1.65"/>
<circle cx="334.2" cy="482.5" r="1.65"/>
<circle cx="325.8" cy="483.5" r="1.65"/>
<circle cx="329.8" cy="483.8" r="1.65"/>
<circle cx="332.2" cy="486.7" r="1.65"/>
<circle cx="323.8" cy="488.1" r="1.65"/>
<circle cx="327.8" cy="489.2" r="1.65"/>
<circle cx="334.2" cy="490.8" r="1.65"/>
<circle cx="321.5" cy="492.1" r="1.65"/>
<circle cx="330" cy="493.5" r="1.65"/>
<circle cx="325.8" cy="495" r="1.65"/>
<circle cx="319.6" cy="497.7" r="1.65"/>
<circle cx="336.3" cy="497.7" r="1.65"/>
<circle cx="323.8" cy="500.4" r="1.65"/>
<circle cx="327.8" cy="500.4" r="1.65"/>
<circle cx="332.2" cy="499.5" r="1.65"/>
<circle cx="323.8" cy="503.1" r="1.65"/>
<circle cx="327.8" cy="507.4" r="1.65"/>
<circle cx="332.2" cy="507.4" r="1.65"/>
<circle cx="325.8" cy="512.7" r="1.65"/>
<circle cx="330" cy="514" r="1.65"/>
<circle cx="327.8" cy="525.2" r="1.65"/>
<line x1="316.1" y1="478.9" x2="339.8" y2="478.9" stroke="#000" stroke-width="1.6"/>
<rect x="358.75" y="469.85" width="2.9" height="2.9"/>
<rect x="362.95" y="472.75" width="2.9" height="2.9"/>
<rect x="357.05" y="475.35" width="2.9" height="2.9"/>
<rect x="361.05" y="478.55" width="2.9" height="2.9"/>
<rect x="364.85" y="478.55" width="2.9" height="2.9"/>
<rect x="361.05" y="494.85" width="2.9" height="2.9"/>
<rect x="357.05" y="498.75" width="2.9" height="2.9"/>
<rect x="361.05" y="500.35" width="2.9" height="2.9"/>
<rect x="364.85" y="500.35" width="2.9" height="2.9"/>
<line x1="350.3" y1="487.4" x2="374.6" y2="487.4" stroke="#000" stroke-width="1.6"/>
<path d="M394.5 507.11L396.25 510.43L392.75 510.43Z"/>
<path d="M399 507.11L400.75 510.43L397.25 510.43Z"/>
<path d="M396.8 515.61L398.55 518.93L395.05 518.93Z"/>
<path d="M396.8 538.5L398.55 541.83L395.05 541.83Z"/>
<line x1="384.4" y1="518.7" x2="408.9" y2="518.7" stroke="#000" stroke-width="1.6"/>
<path d="M425.1 516.89L426.85 513.57L423.35 513.57Z"/>
<path d="M429.1 518.89L430.85 515.57L427.35 515.57Z"/>
<path d="M433.1 518.89L434.85 515.57L431.35 515.57Z"/>
<path d="M437.6 516.89L439.35 513.57L435.85 513.57Z"/>
<path d="M431.3 534L433.05 530.67L429.55 530.67Z"/>
<path d="M431.3 541.1L433.05 537.77L429.55 537.77Z"/>
<line x1="419.1" y1="522.7" x2="443.4" y2="522.7" stroke="#000" stroke-width="1.6"/>
<path d="M465.9 487.25L467.85 489.2L465.9 491.15L463.95 489.2Z"/>
<path d="M465.9 498.65L467.85 500.6L465.9 502.55L463.95 500.6Z"/>
<path d="M465.9 504.15L467.85 506.1L465.9 508.05L463.95 506.1Z"/>
<path d="M463.5 517.85L465.45 519.8L463.5 521.75L461.55 519.8Z"/>
<path d="M468.1 517.85L470.05 519.8L468.1 521.75L466.15 519.8Z"/>
<path d="M468.1 524.75L470.05 526.7L468.1 528.65L466.15 526.7Z"/>
<path d="M463.5 528.95L465.45 530.9L463.5 532.85L461.55 530.9Z"/>
<line x1="453.9" y1="513" x2="477.9" y2="513" stroke="#000" stroke-width="1.6"/>
<circle cx="500.1" cy="515.9" r="1.5" fill="#fff" stroke="#000" stroke-width="1.4"/>
<circle cx="491.9" cy="521.2" r="1.5" fill="#fff" stroke="#000" stroke-width="1.4"/>
<circle cx="495.8" cy="522.5" r="1.5" fill="#fff" stroke="#000" stroke-width="1.4"/>
<circle cx="500.1" cy="523" r="1.5" fill="#fff" stroke="#000" stroke-width="1.4"/>
<circle cx="504.1" cy="522.2" r="1.5" fill="#fff" stroke="#000" stroke-width="1.4"/>
<circle cx="508.5" cy="521.2" r="1.5" fill="#fff" stroke="#000" stroke-width="1.4"/>
<circle cx="504.1" cy="527" r="1.5" fill="#fff" stroke="#000" stroke-width="1.4"/>
<circle cx="496.2" cy="530.9" r="1.5" fill="#fff" stroke="#000" stroke-width="1.4"/>
<circle cx="500.1" cy="530.9" r="1.5" fill="#fff" stroke="#000" stroke-width="1.4"/>
<circle cx="500.1" cy="537.6" r="1.5" fill="#fff" stroke="#000" stroke-width="1.4"/>
<line x1="488.3" y1="525.1" x2="512.5" y2="525.1" stroke="#000" stroke-width="1.6"/>
</g>
</svg>
</body></html>
